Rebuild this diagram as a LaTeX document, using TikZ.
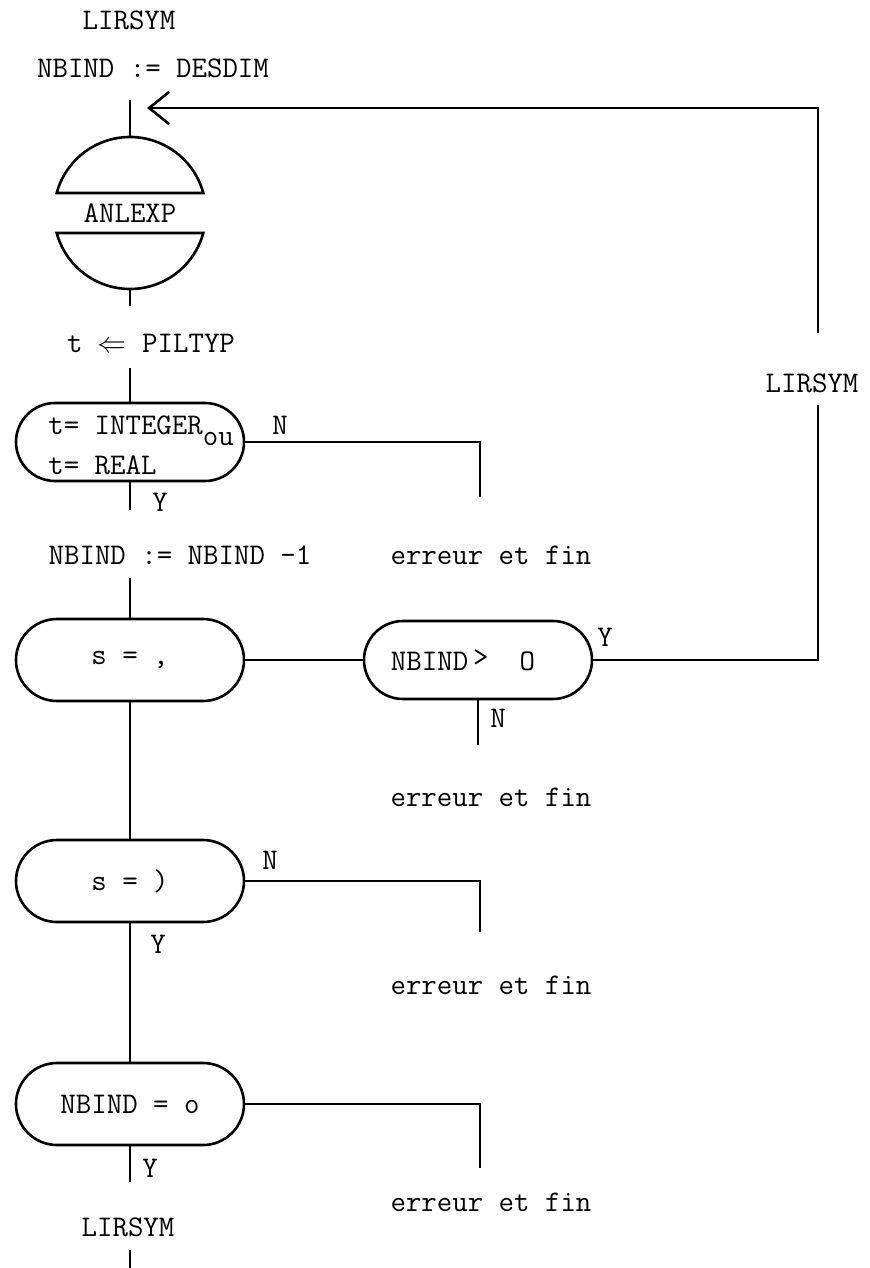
\documentclass[tikz,border=0pt]{standalone}
\usepackage{fontspec}
\usetikzlibrary{shapes.misc,arrows.meta}
\begin{document}
\begin{tikzpicture}[x=0.5pt,y=0.5pt,line width=1.3pt,
  every node/.style={font=\fontsize{15}{18}\selectfont\ttfamily,inner sep=0pt},
  decbox/.style={draw,rounded rectangle,minimum width=114pt,minimum height=41pt},
  loopend/.style={-{Straight Barb[length=10pt,width=16pt,line width=1.3pt]}}]
\useasboundingbox (0,0) rectangle (869,-1268);

% top
\node (lir1) at (129,-20) {LIRSYM};
\node (nbdes) at (153,-68) {NBIND := DESDIM};
\coordinate (s1) at (130,-100);
\coordinate (sphtop) at (130,-137);
\coordinate (sphbot) at (130,-289);
\coordinate (tail1) at (130,-306);
\node (anlexp) at (130,-213) {ANLEXP};
\draw (56.7,-193) -- (203.3,-193) arc[start angle=15.26,end angle=164.74,radius=38pt] -- cycle;
\draw (56.7,-233) -- (203.3,-233) arc[start angle=-15.26,end angle=-164.74,radius=38pt] -- cycle;
\draw (s1) -- (sphtop);
\draw (sphbot) -- (tail1);

\node (pil) at (151,-343) {t $\Leftarrow$ PILTYP};
\coordinate (s2) at (130,-368);

% box 1
\node[decbox,minimum height=39pt] (b1) at (130,-442) {};
\node[align=left] (b1t) at (141,-445)
  {t= INTEGER\raisebox{-0.9ex}{ou}\\[2pt]t= REAL};
\draw (s2) -- (b1.north);
\node (n1) at (280,-425) {N};
\coordinate (e1) at (480,-442);
\coordinate (e1d) at (480,-497);
\draw (b1.east) -- (e1) -- (e1d);
\coordinate (y1d) at (130,-510);
\draw (b1.south) -- (y1d);
\node (y1) at (160,-502) {Y};
\node (dec) at (180,-555) {NBIND := NBIND -1};
\node (err1) at (491,-555) {erreur et fin};
\coordinate (s3) at (130,-578);

% s = ,
\node[decbox] (b2) at (130,-660) {s = ,};
\draw (s3) -- (b2.north);
\node[decbox,minimum height=39pt] (b3) at (478,-660) {};
\node (b3t) at (463,-660) {NBIND\,\raisebox{0.3ex}{>}\ \ O};
\draw (b2.east) -- (b3.west);
\node (y3) at (605,-637) {Y};
\coordinate (r1) at (818,-660);
\coordinate (r2) at (818,-405);
\node (lir2) at (812,-383) {LIRSYM};
\coordinate (r3) at (818,-333);
\coordinate (r4) at (818,-108);
\coordinate (tip) at (147,-108);
\draw (b3.east) -- (r1) -- (r2);
\draw[loopend] (r3) -- (r4) -- (tip);
\coordinate (n3d) at (478,-745);
\draw (b3.south) -- (n3d);
\node (n3) at (498,-718) {N};
\node (err2) at (491,-797) {erreur et fin};

% s = )
\node[decbox] (b4) at (130,-881) {s = )};
\draw (b2.south) -- (b4.north);
\node (n4) at (270,-860) {N};
\coordinate (e4) at (480,-881);
\coordinate (e4d) at (480,-932);
\draw (b4.east) -- (e4) -- (e4d);
\node (y4) at (158,-944) {Y};
\node (err3) at (491,-985) {erreur et fin};

% NBIND = o
\node[decbox] (b5) at (130,-1104) {NBIND = o};
\draw (b4.south) -- (b5.north);
\coordinate (e5) at (480,-1104);
\coordinate (e5d) at (480,-1168);
\draw (b5.east) -- (e5) -- (e5d);
\coordinate (y5d) at (130,-1182);
\draw (b5.south) -- (y5d);
\node (y5) at (150,-1168) {Y};
\node (err4) at (491,-1202) {erreur et fin};
\node (lir3) at (128,-1227) {LIRSYM};
\coordinate (b6) at (130,-1250);
\coordinate (b7) at (130,-1268);
\draw (b6) -- (b7);
\end{tikzpicture}
\end{document}
